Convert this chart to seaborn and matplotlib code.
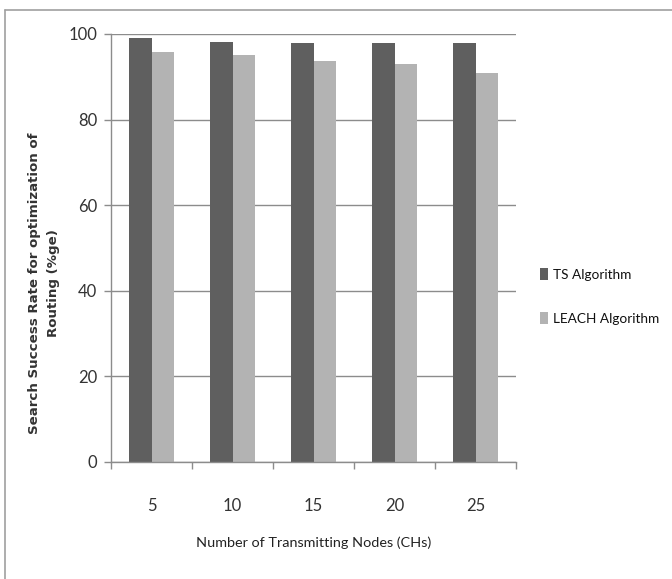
import matplotlib
matplotlib.use("Agg")
import matplotlib.pyplot as plt
import seaborn as sns
import pandas as pd
from matplotlib.lines import Line2D
from matplotlib.patches import Patch

# Data
nodes = ["5", "10", "15", "20", "25"]
ts_rate = [99.0, 98.2, 97.8, 97.8, 97.8]
leach_rate = [95.8, 95.0, 93.8, 93.0, 91.0]
series_names = ["TS Algorithm", "LEACH Algorithm"]
series_colors = ["#5f5f5f", "#b3b3b3"]
y_ticks = [0, 20, 40, 60, 80, 100]

df = pd.DataFrame({
    "nodes": nodes * 2,
    "rate": ts_rate + leach_rate,
    "series": [series_names[0]] * len(nodes) + [series_names[1]] * len(nodes),
})

sns.set_theme(style="white")
plt.rcParams["font.family"] = ["Lato", "DejaVu Sans"]

W, H = 672, 579
fig = plt.figure(figsize=(W / 100, H / 100), dpi=100)
ax = fig.add_axes([111 / W, 1 - 462 / H, (516 - 111) / W, (462 - 34) / H])

sns.barplot(data=df, x="nodes", y="rate", hue="series", order=nodes,
            hue_order=series_names, palette=series_colors, width=0.555,
            saturation=1, gap=0, edgecolor="none", linewidth=0,
            legend=False, ax=ax)

grid_c = "#8c8c8c"
ax.set_ylim(0, 100)
ax.set_xlim(-0.5, len(nodes) - 0.5)
ax.set_yticks(y_ticks)
ax.yaxis.grid(True, color=grid_c, linewidth=1.0)
ax.set_axisbelow(True)
for s in ["top", "right"]:
    ax.spines[s].set_visible(False)
for s in ["left", "bottom"]:
    ax.spines[s].set_color(grid_c)
    ax.spines[s].set_linewidth(1.0)

# category boundary ticks on x, outward ticks on y
ax.set_xticks([i + 0.5 for i in range(-1, len(nodes))], minor=True)
ax.tick_params(axis="x", which="minor", bottom=True, length=5, width=1, color=grid_c, direction="out")
ax.tick_params(axis="x", which="major", bottom=False, length=0, pad=26, labelsize=12, labelcolor="#333333")
ax.tick_params(axis="y", left=True, length=5, width=1, color=grid_c, direction="out", pad=5,
               labelsize=12, labelcolor="#333333")
ax.set_xlabel("")
ax.set_ylabel("")

fig.text(314 / W, 1 - 543 / H, "Number of Transmitting Nodes (CHs)", ha="center", va="center",
         fontsize=10.4, color="#222222")
fig.text(44 / W, 1 - 283 / H, "Search Success Rate for optimization of\nRouting (%ge)",
         ha="center", va="center", rotation=90, fontsize=9.6, fontweight="bold",
         color="#333333", family="DejaVu Sans", linespacing=1.55, multialignment="center")

handles = [Patch(facecolor=c, edgecolor="none") for c in series_colors]
fig.legend(handles, series_names, loc="upper left", bbox_to_anchor=(540 / W, 1 - 268 / H),
           frameon=False, handlelength=0.6, handleheight=1.0, handletextpad=0.35,
           labelspacing=2.3, fontsize=9.8, borderaxespad=0, borderpad=0,
           labelcolor="#111111")

# outer frame around the chart area
fig.add_artist(Line2D([5 / W, 1], [1 - 10 / H, 1 - 10 / H], color="#a0a0a0", linewidth=1.2))
fig.add_artist(Line2D([5 / W, 5 / W], [0, 1 - 10 / H], color="#a0a0a0", linewidth=1.2))

fig.savefig("out.png", dpi=100, facecolor="white")
